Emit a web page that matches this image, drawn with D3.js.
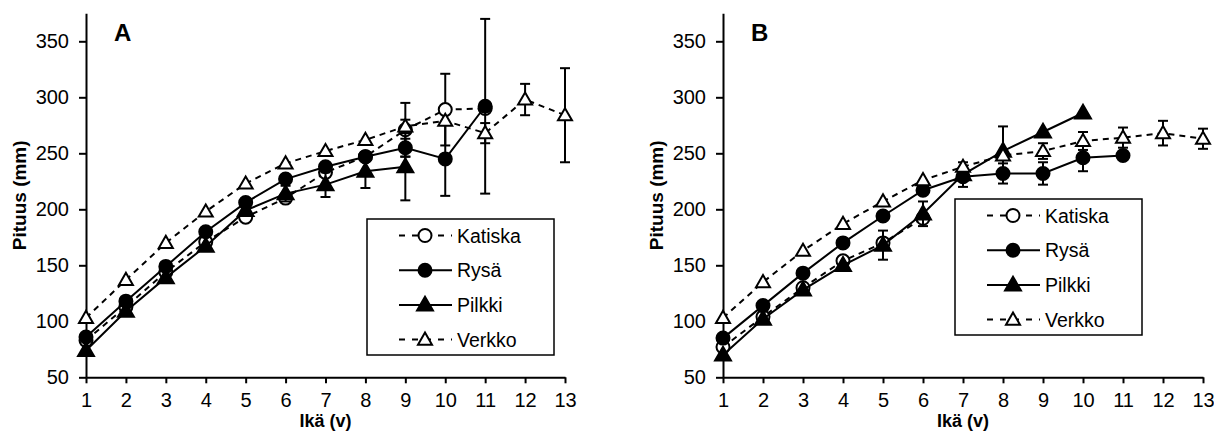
<!DOCTYPE html>
<html>
<head>
<meta charset="utf-8">
<script src="https://cdn.jsdelivr.net/npm/d3@7/dist/d3.min.js"></script>
<style>
  body { margin: 0; background: #fff; }
  svg { font-family: "Liberation Sans", Arial, sans-serif; }
</style>
</head>
<body>
<div id="chart"></div>
<script>
var w = 1214,
	h = 432;

// ages on the x axis
var ages = [1, 2, 3, 4, 5, 6, 7, 8, 9, 10, 11, 12, 13];
var yTicks = [50, 100, 150, 200, 250, 300, 350];
var seriesNames = ["Katiska", "Rysä", "Pilkki", "Verkko"];

// panel A means and error bars (mm)
var katiskaA = [83, 113, 144, 171, 193, 210, 233, 247, 271, 289, 290, null, null];
var rysaA = [86, 118, 149, 180, 206, 227, 238, 247, 255, 245, 292, null, null];
var pilkkiA = [74, 109, 139, 167, 199, 214, 222, 234, 238, null, null, null, null];
var verkkoA = [103, 137, 170, 198, 223, 241, 252, 262, 274, 279, 268, 298, 284];
var katiskaErrA = [0, 0, 0, 0, 0, 0, 0, 0, 24, 32, 0, 0, 0];
var rysaErrA = [0, 0, 0, 0, 0, 0, 0, 0, 8, 33, 78, 0, 0];
var pilkkiErrA = [0, 0, 0, 0, 0, 7, 11, 15, 30, 0, 0, 0, 0];
var verkkoErrA = [0, 0, 0, 0, 0, 0, 0, 0, 6, 0, 9, 14, 42];

// panel B means and error bars (mm)
var katiskaB = [77, 104, 130, 154, 170, 192, null, null, null, null, null, null, null];
var rysaB = [85, 114, 143, 170, 194, 217, 229, 232, 232, 246, 248, null, null];
var pilkkiB = [70, 102, 128, 150, 168, 196, 231, 252, 269, 286, null, null, null];
var verkkoB = [103, 135, 163, 187, 207, 226, 238, 248, 252, 261, 264, 268, 263];
var katiskaErrB = [0, 0, 0, 0, 0, 0, 0, 0, 0, 0, 0, 0, 0];
var rysaErrB = [0, 0, 0, 0, 0, 0, 0, 9, 10, 12, 0, 0, 0];
var pilkkiErrB = [0, 0, 0, 0, 13, 11, 11, 22, 0, 0, 0, 0, 0];
var verkkoErrB = [0, 0, 0, 0, 0, 0, 0, 0, 7, 8, 9, 11, 9];

var styles = [
	{ dash: "6,5", shape: "circle", fill: "#fff" },
	{ dash: null, shape: "circle", fill: "#000" },
	{ dash: null, shape: "triangle", fill: "#000" },
	{ dash: "6,5", shape: "triangle", fill: "#fff" }
];

var root = d3.select("#chart").append("svg").attr("width", w).attr("height", h);

drawPanel({
	label: "A", left: 86, right: 565,
	data: [katiskaA, rysaA, pilkkiA, verkkoA],
	errs: [katiskaErrA, rysaErrA, pilkkiErrA, verkkoErrA],
	legend: { x: 367, y: 219 }
});
drawPanel({
	label: "B", left: 723, right: 1203,
	data: [katiskaB, rysaB, pilkkiB, verkkoB],
	errs: [katiskaErrB, rysaErrB, pilkkiErrB, verkkoErrB],
	legend: { x: 955, y: 199 }
});

function drawMarker(g, style, cx, cy) {
	if (style.shape === "circle") {
		g.append("circle").attr("cx", cx).attr("cy", cy).attr("r", 6.5)
			.style("fill", style.fill).style("stroke", "#000").style("stroke-width", 2);
	} else {
		var size = style.fill === "#000" ? 110 : 85;
		g.append("path").attr("d", d3.symbol(d3.symbolTriangle, size)())
			.attr("transform", "translate(" + cx + "," + (cy + 1) + ")")
			.style("fill", style.fill).style("stroke", "#000").style("stroke-width", 2)
			.style("stroke-linejoin", "miter");
	}
}

function drawPanel(p) {
	var x = d3.scaleLinear().domain([1, 13]).range([p.left, p.right]);
	var y = d3.scaleLinear().domain([50, 375]).range([377.3, 13.3]);
	var g = root.append("g");

	var xAxis = g.append("g").attr("transform", "translate(0," + y(50) + ")")
		.call(d3.axisBottom(x).tickValues(ages).tickFormat(d3.format("d")).tickSize(6).tickSizeOuter(0).tickPadding(10));
	var yAxis = g.append("g").attr("transform", "translate(" + p.left + ",0)")
		.call(d3.axisLeft(y).tickValues(yTicks).tickSize(7).tickSizeOuter(0).tickPadding(10));
	[xAxis, yAxis].forEach(function(a) {
		a.select(".domain").style("stroke", "#000").style("stroke-width", 2);
		a.selectAll(".tick line").style("stroke", "#000").style("stroke-width", 2);
		a.selectAll(".tick text").style("font-size", "20px").style("fill", "#000")
			.style("font-family", "'Liberation Sans', Arial, sans-serif");
	});

	g.append("text").attr("x", (p.left + p.right) / 2).attr("y", 427)
		.attr("text-anchor", "middle").style("font-weight", "bold").style("font-size", "18px")
		.text("Ikä (v)");
	g.append("text").attr("transform", "translate(" + (p.left - 60) + "," + ((y(50) + y(375)) / 2) + ") rotate(-90)")
		.attr("text-anchor", "middle").style("font-weight", "bold").style("font-size", "19px")
		.text("Pituus (mm)");
	g.append("text").attr("x", p.left + 28).attr("y", 41)
		.style("font-weight", "bold").style("font-size", "24px").text(p.label);

	for (var s = 0; s < p.data.length; s++) {
		var vals = p.data[s], errs = p.errs[s], st = styles[s];
		var pts = ages.map(function(a, i) { return { a: a, v: vals[i], e: errs[i] }; });
		var sg = g.append("g");

		pts.forEach(function(d) {
			if (d.v == null || !d.e) return;
			var cx = x(d.a), y1 = y(d.v + d.e), y2 = y(d.v - d.e);
			sg.append("line").attr("x1", cx).attr("x2", cx).attr("y1", y1).attr("y2", y2)
				.style("stroke", "#000").style("stroke-width", 2);
			[y1, y2].forEach(function(yy) {
				sg.append("line").attr("x1", cx - 5).attr("x2", cx + 5).attr("y1", yy).attr("y2", yy)
					.style("stroke", "#000").style("stroke-width", 2);
			});
		});

		var line = d3.line().defined(function(d) { return d.v != null; })
			.x(function(d) { return x(d.a); }).y(function(d) { return y(d.v); });
		sg.append("path").datum(pts).attr("d", line)
			.style("fill", "none").style("stroke", "#000").style("stroke-width", 2)
			.style("stroke-dasharray", st.dash);

		pts.forEach(function(d) {
			if (d.v == null) return;
			drawMarker(sg, st, x(d.a), y(d.v));
		});
	}

	// legend
	var lg = g.append("g");
	lg.append("rect").attr("x", p.legend.x).attr("y", p.legend.y).attr("width", 187).attr("height", 136)
		.style("fill", "#fff").style("stroke", "#000").style("stroke-width", 1.5);
	seriesNames.forEach(function(name, i) {
		var cy = p.legend.y + 16.5 + i * 34.7;
		var st = styles[i];
		lg.append("line").attr("x1", p.legend.x + 32).attr("x2", p.legend.x + 85)
			.attr("y1", cy).attr("y2", cy)
			.style("stroke", "#000").style("stroke-width", 2).style("stroke-dasharray", st.dash ? "6,7" : null);
		drawMarker(lg, st, p.legend.x + 58, cy);
		lg.append("text").attr("x", p.legend.x + 90).attr("y", cy + 7)
			.style("font-size", "19.5px").text(name);
	});
}
</script>
</body>
</html>
